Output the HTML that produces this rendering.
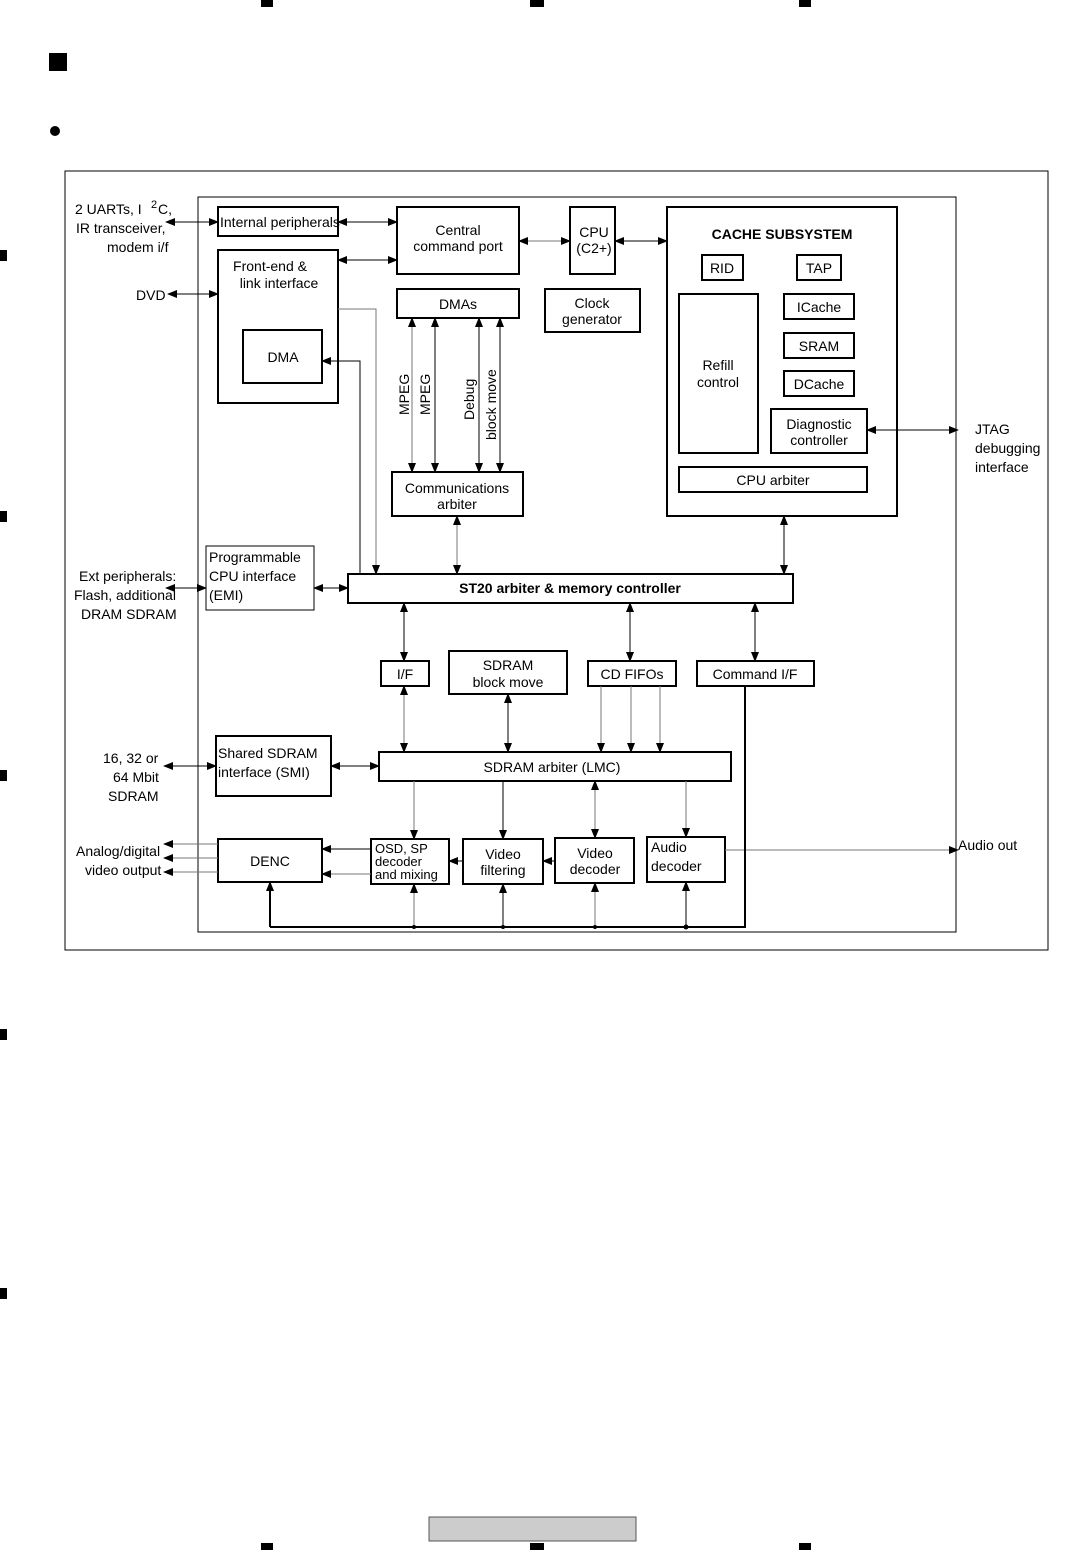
<!DOCTYPE html>
<html><head><meta charset="utf-8"><style>
html,body{margin:0;padding:0;background:#fff}
svg{display:block}
text{font-family:"Liberation Sans",Arial,sans-serif;font-size:14px;fill:#000}
.b{fill:#fff;stroke:#000;stroke-width:2}
.t{fill:#fff;stroke:#000;stroke-width:1}
.l{stroke:#000;stroke-width:1;fill:none}
.g{stroke:#777;stroke-width:1;fill:none}
</style></head><body>
<svg width="1077" height="1550" viewBox="0 0 1077 1550" xmlns="http://www.w3.org/2000/svg">
<defs>
<marker id="a" markerWidth="10" markerHeight="10" refX="9" refY="5" orient="auto-start-reverse" markerUnits="userSpaceOnUse"><path d="M0,1 L10,5 L0,9 z" fill="#000"/></marker>
</defs>
<!-- registration marks -->
<rect x="261" y="0" width="12" height="7" fill="#000"/><rect x="530" y="0" width="14" height="7" fill="#000"/><rect x="799" y="0" width="12" height="7" fill="#000"/>
<rect x="0" y="250" width="7" height="11" fill="#000"/><rect x="0" y="511" width="7" height="11" fill="#000"/><rect x="0" y="770" width="7" height="11" fill="#000"/><rect x="0" y="1029" width="7" height="11" fill="#000"/><rect x="0" y="1288" width="7" height="11" fill="#000"/>
<rect x="261" y="1543" width="12" height="7" fill="#000"/><rect x="530" y="1543" width="14" height="7" fill="#000"/><rect x="799" y="1543" width="12" height="7" fill="#000"/>
<rect x="429" y="1517" width="207" height="24" fill="#ccc" stroke="#555"/>
<rect x="49" y="53" width="18" height="18" fill="#000"/>
<circle cx="55" cy="131" r="5" fill="#000"/>
<!-- frames -->
<rect x="65" y="171" width="983" height="779" class="t"/>
<rect x="198" y="197" width="758" height="735" class="t"/>
<!-- boxes -->
<rect x="218" y="207" width="120" height="29" class="b"/><text x="220" y="227">Internal peripherals</text>
<rect x="397" y="207" width="122" height="67" class="b"/><text x="458" y="235" text-anchor="middle">Central</text><text x="458" y="251" text-anchor="middle">command port</text>
<rect x="570" y="207" width="45" height="67" class="b"/><text x="594" y="237" text-anchor="middle">CPU</text><text x="594" y="253" text-anchor="middle">(C2+)</text>
<rect x="667" y="207" width="230" height="309" class="b"/><text x="782" y="239" text-anchor="middle" font-weight="bold">CACHE SUBSYSTEM</text>
<rect x="702" y="255" width="41" height="25" class="b"/><text x="722" y="273" text-anchor="middle">RID</text>
<rect x="797" y="255" width="44" height="25" class="b"/><text x="819" y="273" text-anchor="middle">TAP</text>
<rect x="679" y="294" width="79" height="159" class="b"/><text x="718" y="370" text-anchor="middle">Refill</text><text x="718" y="387" text-anchor="middle">control</text>
<rect x="784" y="294" width="70" height="25" class="b"/><text x="819" y="312" text-anchor="middle">ICache</text>
<rect x="784" y="333" width="70" height="25" class="b"/><text x="819" y="351" text-anchor="middle">SRAM</text>
<rect x="784" y="371" width="70" height="25" class="b"/><text x="819" y="389" text-anchor="middle">DCache</text>
<rect x="771" y="409" width="96" height="44" class="b"/><text x="819" y="429" text-anchor="middle">Diagnostic</text><text x="819" y="445" text-anchor="middle">controller</text>
<rect x="679" y="467" width="188" height="25" class="b"/><text x="773" y="485" text-anchor="middle">CPU arbiter</text>
<rect x="218" y="250" width="120" height="153" class="b"/><text x="270" y="271" text-anchor="middle">Front-end &amp;</text><text x="279" y="288" text-anchor="middle">link interface</text>
<rect x="243" y="330" width="79" height="53" class="b"/><text x="283" y="362" text-anchor="middle">DMA</text>
<rect x="397" y="289" width="122" height="29" class="b"/><text x="458" y="309" text-anchor="middle">DMAs</text>
<rect x="545" y="289" width="95" height="43" class="b"/><text x="592" y="308" text-anchor="middle">Clock</text><text x="592" y="324" text-anchor="middle">generator</text>
<rect x="392" y="472" width="131" height="44" class="b"/><text x="457" y="493" text-anchor="middle">Communications</text><text x="457" y="509" text-anchor="middle">arbiter</text>
<text transform="translate(409,415) rotate(-90)">MPEG</text>
<text transform="translate(430,415) rotate(-90)">MPEG</text>
<text transform="translate(474,420) rotate(-90)">Debug</text>
<text transform="translate(496,440) rotate(-90)">block move</text>
<rect x="206" y="546" width="108" height="64" class="t"/><text x="209" y="562">Programmable</text><text x="209" y="581">CPU interface</text><text x="209" y="600">(EMI)</text>
<rect x="348" y="574" width="445" height="29" class="b"/><text x="570" y="593" text-anchor="middle" font-weight="bold">ST20 arbiter &amp; memory controller</text>
<rect x="381" y="661" width="48" height="25" class="b"/><text x="405" y="679" text-anchor="middle">I/F</text>
<rect x="449" y="651" width="118" height="43" class="b"/><text x="508" y="670" text-anchor="middle">SDRAM</text><text x="508" y="687" text-anchor="middle">block move</text>
<rect x="588" y="661" width="88" height="25" class="b"/><text x="632" y="679" text-anchor="middle">CD FIFOs</text>
<rect x="697" y="661" width="117" height="25" class="b"/><text x="755" y="679" text-anchor="middle">Command I/F</text>
<rect x="216" y="736" width="115" height="60" class="b"/><text x="218" y="758">Shared SDRAM</text><text x="218" y="777">interface (SMI)</text>
<rect x="379" y="752" width="352" height="29" class="b"/><text x="552" y="772" text-anchor="middle">SDRAM arbiter (LMC)</text>
<rect x="218" y="839" width="104" height="43" class="b"/><text x="270" y="866" text-anchor="middle">DENC</text>
<rect x="371" y="839" width="78" height="45" class="b"/><text x="375" y="853" style="font-size:13px">OSD, SP</text><text x="375" y="866" style="font-size:13px">decoder</text><text x="375" y="879" style="font-size:13px">and mixing</text>
<rect x="463" y="839" width="80" height="45" class="b"/><text x="503" y="859" text-anchor="middle">Video</text><text x="503" y="875" text-anchor="middle">filtering</text>
<rect x="555" y="838" width="79" height="45" class="b"/><text x="595" y="858" text-anchor="middle">Video</text><text x="595" y="874" text-anchor="middle">decoder</text>
<rect x="647" y="837" width="78" height="45" class="b"/><text x="651" y="852">Audio</text><text x="651" y="871">decoder</text>
<!-- outside labels -->
<text x="75" y="214">2 UARTs, I</text><text x="151" y="208" style="font-size:11px">2</text><text x="158" y="214">C,</text>
<text x="76" y="233">IR transceiver,</text><text x="107" y="252">modem i/f</text>
<text x="136" y="300">DVD</text>
<text x="79" y="581">Ext peripherals:</text><text x="74" y="600">Flash, additional</text><text x="81" y="619">DRAM SDRAM</text>
<text x="103" y="763">16, 32 or</text><text x="113" y="782">64 Mbit</text><text x="108" y="801">SDRAM</text>
<text x="76" y="856">Analog/digital</text><text x="85" y="875">video output</text>
<text x="975" y="434">JTAG</text><text x="975" y="453">debugging</text><text x="975" y="472">interface</text>
<text x="958" y="850">Audio out</text>
<!-- connectors -->
<line x1="166" y1="222" x2="218" y2="222" class="l" marker-start="url(#a)" marker-end="url(#a)"/>
<line x1="338" y1="222" x2="397" y2="222" class="l" marker-start="url(#a)" marker-end="url(#a)"/>
<line x1="338" y1="260" x2="397" y2="260" class="l" marker-start="url(#a)" marker-end="url(#a)"/>
<line x1="519" y1="241" x2="570" y2="241" class="g" marker-start="url(#a)" marker-end="url(#a)"/>
<line x1="615" y1="241" x2="667" y2="241" class="l" marker-start="url(#a)" marker-end="url(#a)"/>
<line x1="168" y1="294" x2="218" y2="294" class="l" marker-start="url(#a)" marker-end="url(#a)"/>
<polyline points="338,309 376,309 376,574" class="g" marker-end="url(#a)"/>
<polyline points="360,574 360,361 322,361" class="l" marker-end="url(#a)"/>
<line x1="412" y1="318" x2="412" y2="472" class="g" marker-start="url(#a)" marker-end="url(#a)"/>
<line x1="435" y1="318" x2="435" y2="472" class="l" marker-start="url(#a)" marker-end="url(#a)"/>
<line x1="479" y1="318" x2="479" y2="472" class="l" marker-start="url(#a)" marker-end="url(#a)"/>
<line x1="500" y1="318" x2="500" y2="472" class="l" marker-start="url(#a)" marker-end="url(#a)"/>
<line x1="457" y1="516" x2="457" y2="574" class="g" marker-start="url(#a)" marker-end="url(#a)"/>
<line x1="784" y1="516" x2="784" y2="574" class="l" marker-start="url(#a)" marker-end="url(#a)"/>
<line x1="867" y1="430" x2="958" y2="430" class="l" marker-start="url(#a)" marker-end="url(#a)"/>
<line x1="166" y1="588" x2="206" y2="588" class="l" marker-start="url(#a)" marker-end="url(#a)"/>
<line x1="314" y1="588" x2="348" y2="588" class="l" marker-start="url(#a)" marker-end="url(#a)"/>
<line x1="404" y1="603" x2="404" y2="661" class="l" marker-start="url(#a)" marker-end="url(#a)"/>
<line x1="630" y1="603" x2="630" y2="661" class="l" marker-start="url(#a)" marker-end="url(#a)"/>
<line x1="755" y1="603" x2="755" y2="661" class="l" marker-start="url(#a)" marker-end="url(#a)"/>
<line x1="404" y1="686" x2="404" y2="752" class="g" marker-start="url(#a)" marker-end="url(#a)"/>
<line x1="508" y1="694" x2="508" y2="752" class="l" marker-start="url(#a)" marker-end="url(#a)"/>
<line x1="601" y1="686" x2="601" y2="752" class="g" marker-end="url(#a)"/>
<line x1="631" y1="686" x2="631" y2="752" class="g" marker-end="url(#a)"/>
<line x1="660" y1="686" x2="660" y2="752" class="g" marker-end="url(#a)"/>
<line x1="164" y1="766" x2="216" y2="766" class="l" marker-start="url(#a)" marker-end="url(#a)"/>
<line x1="331" y1="766" x2="379" y2="766" class="l" marker-start="url(#a)" marker-end="url(#a)"/>
<line x1="414" y1="781" x2="414" y2="839" class="g" marker-end="url(#a)"/>
<line x1="503" y1="781" x2="503" y2="839" class="l" marker-end="url(#a)"/>
<line x1="595" y1="781" x2="595" y2="838" class="g" marker-start="url(#a)" marker-end="url(#a)"/>
<line x1="686" y1="781" x2="686" y2="837" class="g" marker-end="url(#a)"/>
<line x1="371" y1="849" x2="322" y2="849" class="l" marker-end="url(#a)"/>
<line x1="371" y1="874" x2="322" y2="874" class="g" marker-end="url(#a)"/>
<line x1="463" y1="861" x2="449" y2="861" class="l" marker-end="url(#a)"/>
<line x1="555" y1="861" x2="543" y2="861" class="l" marker-end="url(#a)"/>
<line x1="218" y1="844" x2="164" y2="844" class="g" marker-end="url(#a)"/>
<line x1="218" y1="858" x2="164" y2="858" class="g" marker-end="url(#a)"/>
<line x1="218" y1="872" x2="164" y2="872" class="g" marker-end="url(#a)"/>
<line x1="725" y1="850" x2="958" y2="850" class="g" marker-end="url(#a)"/>
<polyline points="745,686 745,927 270,927" style="stroke:#000;stroke-width:2;fill:none"/>
<line x1="270" y1="927" x2="270" y2="882" style="stroke:#000;stroke-width:2" marker-end="url(#a)"/>
<line x1="414" y1="927" x2="414" y2="884" class="g" marker-end="url(#a)"/>
<line x1="503" y1="927" x2="503" y2="884" class="l" marker-end="url(#a)"/>
<line x1="595" y1="927" x2="595" y2="883" class="g" marker-end="url(#a)"/>
<line x1="686" y1="927" x2="686" y2="882" class="l" marker-end="url(#a)"/>
<circle cx="414" cy="927" r="2"/><circle cx="503" cy="927" r="2"/><circle cx="595" cy="927" r="2"/><circle cx="686" cy="927" r="2.5"/>
</svg>
</body></html>
